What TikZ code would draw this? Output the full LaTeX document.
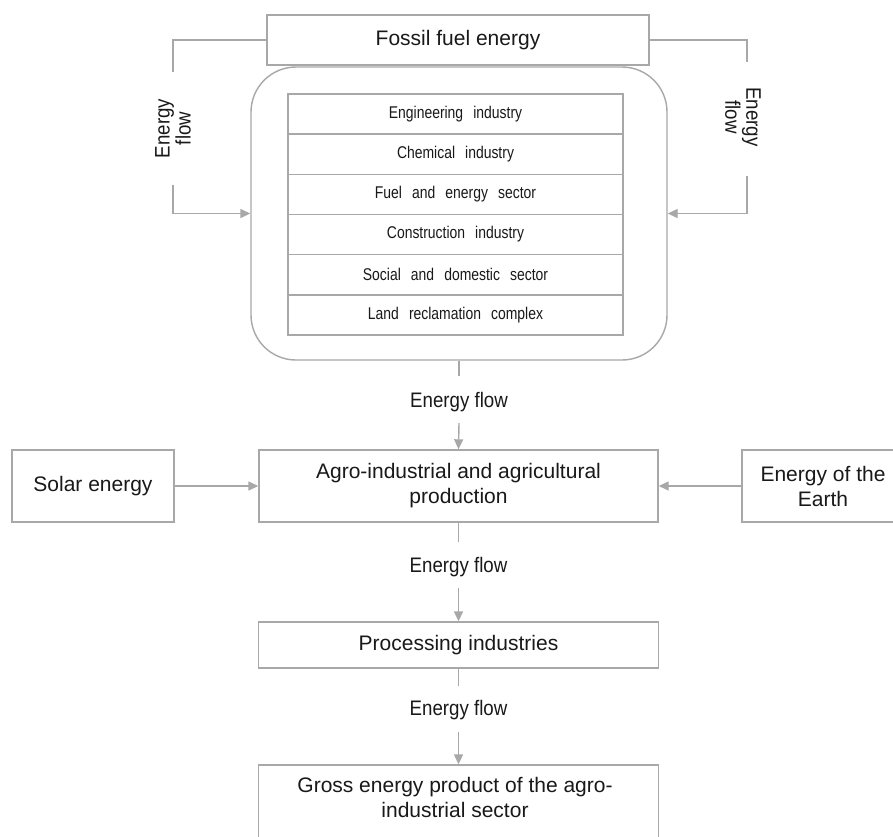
\documentclass[tikz,border=0pt]{standalone}
\usepackage{fontspec}
\setmainfont{Liberation Sans}
\newfontfamily\condfont{Liberation Sans}[FakeStretch=0.89]
\newfontfamily\tabfont{Liberation Sans}[FakeStretch=0.82,WordSpace=2.6]
\usetikzlibrary{arrows.meta}
\definecolor{lg}{RGB}{168,168,168}
\definecolor{tx}{RGB}{25,25,25}
\begin{document}
\begin{tikzpicture}[x=1pt,y=-1pt,
 box/.style={draw=lg,line width=1.4pt,inner sep=0pt,align=center,text=tx,font=\fontsize{21pt}{25pt}\selectfont},
 row/.style={draw=lg,line width=1.4pt,inner sep=0pt,minimum width=335pt,minimum height=40.17pt,text=tx,font=\tabfont\fontsize{17pt}{20pt}\selectfont},
 lbl/.style={inner sep=0pt,text=tx,font=\condfont\fontsize{21pt}{21pt}\selectfont,align=center},
 ln/.style={draw=lg,line width=1.4pt},
 arr/.style={ln,-{Triangle[length=10pt,width=9pt]}}
]
\useasboundingbox (0,0) rectangle (893,836);
\fill[white] (0,0) rectangle (893,836);
\clip (0,0) rectangle (893,836);

% top
\node[box,minimum width=382pt,minimum height=50pt] (fossil) at (458,40) {Fossil fuel energy};
\node[draw=lg,line width=1.4pt,rounded corners=45pt,minimum width=416pt,minimum height=293pt,inner sep=0pt] (round) at (459,213.5) {};
\node[row] (r1) at (455.5,114.08) {Engineering industry};
\node[row] (r2) at (455.5,154.25) {Chemical industry};
\node[row] (r3) at (455.5,194.42) {Fuel and energy sector};
\node[row] (r4) at (455.5,234.58) {Construction industry};
\node[row] (r5) at (455.5,274.75) {Social and domestic sector};
\node[row] (r6) at (455.5,314.92) {Land reclamation complex};

% side brackets
\coordinate (lA) at (173,72);
\coordinate (lB) at (173,185);
\draw[ln] (fossil.west) -| (lA);
\draw[arr] (lB) |- (round.west);
\node[lbl,rotate=90] (lt) at (173,128.5) {Energy\\flow};

\coordinate (rA) at (747,62);
\coordinate (rB) at (747,176);
\draw[ln] (fossil.east) -| (rA);
\draw[arr] (rB) |- (round.east);
\node[lbl,rotate=-90] (rt) at (743,117) {Energy\\flow};

% middle row
\node[box,minimum width=399pt,minimum height=72pt] (agro) at (458.5,486) {Agro-industrial and agricultural\\production};
\node[box,minimum width=162pt,minimum height=72pt] (solar) at (93,486) {Solar energy};
\node[box,minimum width=162pt,minimum height=72pt] (earth) at (823,486) {Energy of the\\Earth};
\draw[arr] (solar.east) -- (agro.west);
\draw[arr] (earth.west) -- (agro.east);

% flow 1
\coordinate (c1) at (459,376);
\coordinate (c2) at (459,423);
\draw[ln] (round.south) -- (c1);
\node[lbl] (f1) at (459,402) {Energy flow};
\draw[arr] (c2) -- (agro.north);

% processing
\node[box,minimum width=400pt,minimum height=46pt] (proc) at (458.5,645) {Processing industries};
\coordinate (c3) at (458.5,542);
\coordinate (c4) at (458.5,588);
\draw[ln] (agro.south) -- (c3);
\node[lbl] (f2) at (458.5,567) {Energy flow};
\draw[arr] (c4) -- (proc.north);

% gross
\node[box,minimum width=400pt,minimum height=76pt] (gross) at (458.5,803) {};
\node[inner sep=0pt,align=center,text=tx,font=\fontsize{21pt}{25pt}\selectfont] (grosst) at (455,797) {Gross energy product of the agro-\\industrial sector};
\coordinate (c5) at (458.5,686);
\coordinate (c6) at (458.5,732);
\draw[ln] (proc.south) -- (c5);
\node[lbl] (f3) at (458.5,710) {Energy flow};
\draw[arr] (c6) -- (gross.north);
\end{tikzpicture}
\end{document}
